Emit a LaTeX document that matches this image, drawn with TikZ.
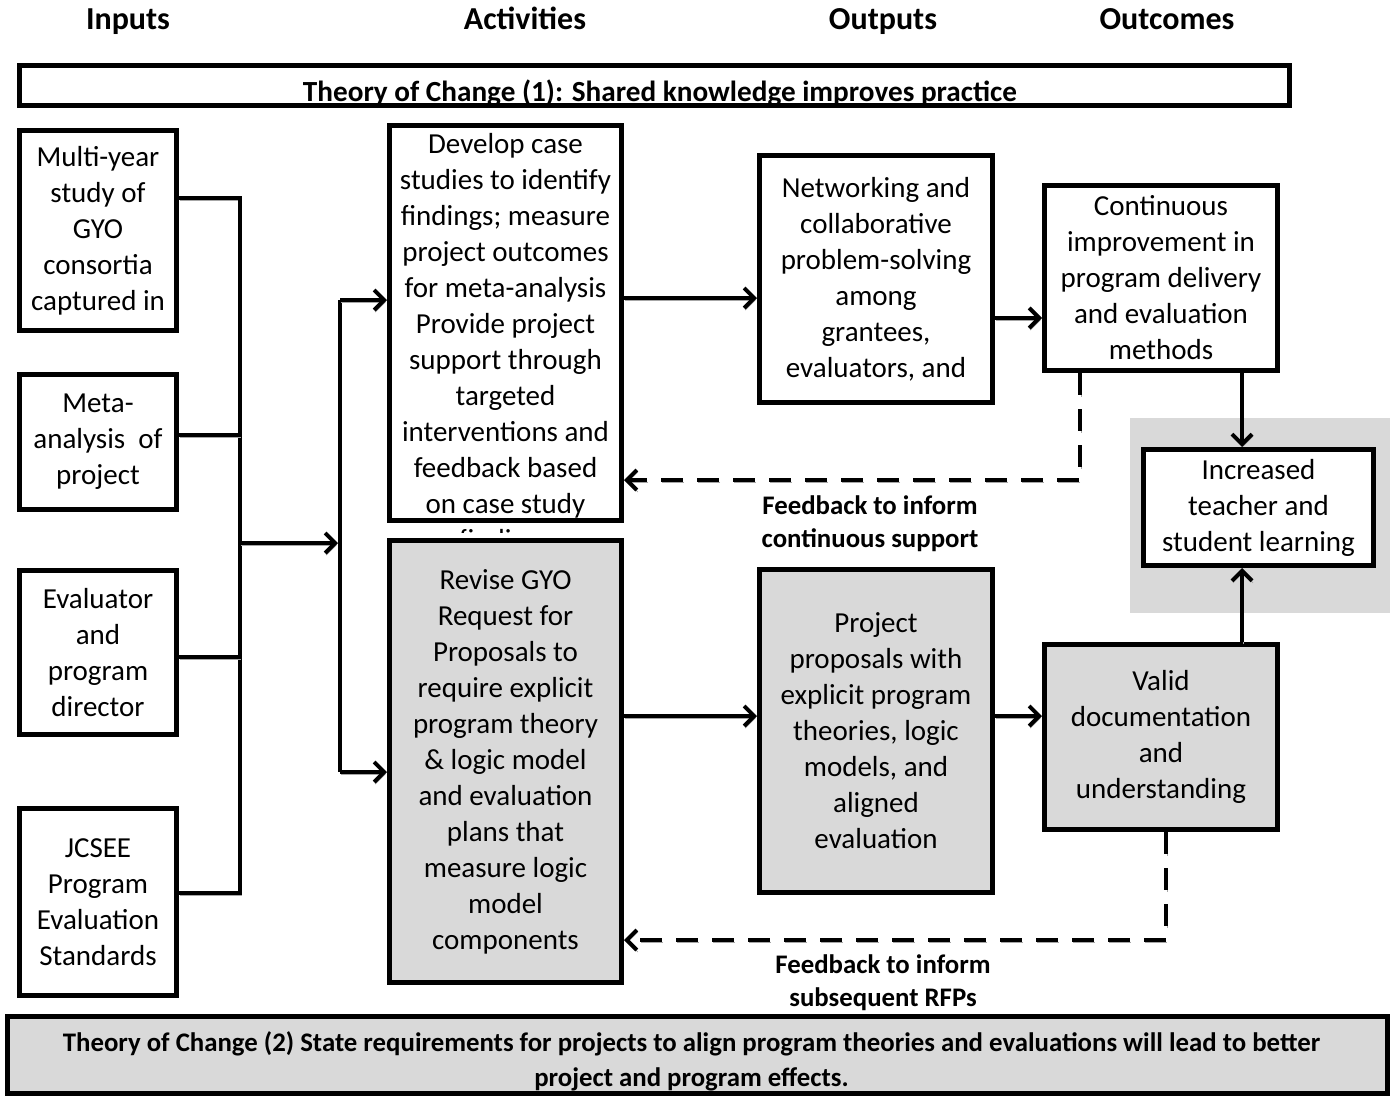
\documentclass[tikz,border=0pt]{standalone}
\usepackage{fontspec}
\setmainfont{Carlito}
\usetikzlibrary{arrows.meta, positioning, shadows}
\definecolor{boxgray}{RGB}{217,217,217}
\tikzstyle{block} = [rectangle, draw=black, line width=2.5pt, fill=white, align=center, inner sep=2pt, font=\fontsize{14.5}{18}\selectfont, drop shadow={shadow xshift=1pt, shadow yshift=-1pt, fill=gray!70, opacity=1}]
\tikzstyle{grayblock} = [block, fill=boxgray]
\tikzstyle{banner} = [rectangle, draw=black, line width=2.5pt, align=center, font=\fontsize{13.4}{17.5}\selectfont\bfseries, drop shadow={shadow xshift=1pt, shadow yshift=-1pt, fill=gray!70, opacity=1}]
\tikzstyle{heading} = [anchor=base, font=\fontsize{16}{19}\selectfont\bfseries]
\tikzstyle{note} = [align=center, font=\fontsize{13.4}{16.5}\selectfont\bfseries]
\tikzstyle{shade} = [preaction={draw=gray!70, transform canvas={shift={(0.5pt,-1pt)}}}]
\tikzstyle{arrow} = [-{Straight Barb[length=5pt,width=10pt]}, line width=2pt, shade]
\tikzstyle{line} = [-, line width=2pt, shade]
\tikzstyle{feedback} = [-{Straight Barb[length=5pt,width=10pt]}, line width=2pt, dash pattern=on 11pt off 7pt, preaction={draw=gray!70, dash pattern=on 11pt off 7pt, transform canvas={shift={(0.5pt,-1pt)}}}]

\begin{document}
\begin{tikzpicture}[x=0.5pt, y=-0.5pt]

    \useasboundingbox (0,0) rectangle (1393,1099);

    % column headings
    \node (hin) [heading] at (128,29) {Inputs};
    \node (hact) [heading] at (525,29) {Activities};
    \node (hout) [heading] at (883,29) {Outputs};
    \node (hoc) [heading] at (1167,29) {Outcomes};

    \node (toc1) [banner, fill=white, minimum width=635pt, minimum height=20pt] at (654.5,85.5) {};
    \node (toc1text) [note, font=\fontsize{14.6}{17.5}\selectfont\bfseries] at (660,93) {Theory of Change (1): Shared knowledge improves practice};

    % inputs
    \node (in1) [block, minimum width=78.5pt, minimum height=100pt] at (98,230.5) {Multi-year\\study of\\GYO\\consortia\\captured in};
    \node (in2) [block, minimum width=78.5pt, minimum height=67.5pt] at (98,442) {Meta-\\analysis\ \ of\\project};
    \node (in3) [block, minimum width=78.5pt, minimum height=82pt] at (98,652.5) {Evaluator\\and\\program\\director};
    \node (in4) [block, minimum width=78.5pt, minimum height=93.5pt] at (98,902) {JCSEE\\Program\\Evaluation\\Standards};

    % activities
    \node (act1) [block, minimum width=116pt, minimum height=197.5pt] at (505.5,323) {};
    \begin{scope}
        \clip (act1.north west) rectangle (act1.east |- 0,532);
        \node (act1text) [below=5pt of act1.north, align=center, inner sep=0pt, font=\fontsize{14.5}{18}\selectfont] {Develop case\\studies to identify\\findings; measure\\project outcomes\\for meta-analysis\\Provide project\\support through\\targeted\\interventions and\\feedback based\\on case study\\findings};
    \end{scope}
    \node (act2) [grayblock, minimum width=116pt, minimum height=221pt] at (505.5,761.5) {Revise GYO\\Request for\\Proposals to\\require explicit\\program theory\\\& logic model\\and evaluation\\plans that\\measure logic\\model\\components};

    % outputs
    \node (out1) [block, minimum width=116.5pt, minimum height=123.5pt] at (876,279) {Networking and\\collaborative\\problem-solving\\among\\grantees,\\evaluators, and};
    \node (out2) [grayblock, minimum width=116.5pt, minimum height=161.5pt] at (876,731) {Project\\proposals with\\explicit program\\theories, logic\\models, and\\aligned\\evaluation};

    % outcomes
    \node (oc1) [block, minimum width=116.5pt, minimum height=92.5pt] at (1161,278) {Continuous\\improvement in\\program delivery\\and evaluation\\methods};
    \node (oc2) [grayblock, minimum width=116.5pt, minimum height=92.5pt] at (1161,737) {Valid\\documentation\\and\\understanding};
    \node (incbg) [rectangle, fill=boxgray, minimum width=130pt, minimum height=97.5pt] at (1260,515.5) {};
    \node (inc) [block, minimum width=115pt, minimum height=58pt] at (1258.5,507.5) {Increased\\teacher and\\student learning};

    \node (toc2) [banner, fill=boxgray, minimum width=690pt, minimum height=38.5pt] at (697.5,1055) {};
    \node (toc2text) [note, font=\fontsize{13.4}{17.5}\selectfont\bfseries] at (691.5,1061) {Theory of Change (2) State requirements for projects to align program theories and evaluations will lead to better\\project and program effects.};

    \node (fbtext1) [note] at (870,523.5) {Feedback to inform\\continuous support};
    \node (fbtext2) [note] at (883,982.5) {Feedback to inform\\subsequent RFPs};

    \coordinate (j1) at (240,198);
    \coordinate (j2) at (240,435);
    \coordinate (j3) at (240,657);
    \coordinate (j4) at (240,893);
    \coordinate (jm) at (240,543);
    \coordinate (hm) at (338,543);
    \coordinate (h1) at (340,300);
    \coordinate (h2) at (340,772);
    \coordinate (fb1) at (1080,480);
    \coordinate (fb2) at (1166,940);

    \draw [line] (in1.east |- j1) -- (j1) -- (j4) -- (in4.east |- j4);
    \draw [line] (in2.east |- j2) -- (j2);
    \draw [line] (in3.east |- j3) -- (j3);
    \draw [arrow] (jm) -- (hm);
    \draw [line] (h1) -- (h2);
    \draw [arrow] (h1) -- (act1.west |- h1);
    \draw [arrow] (h2) -- (act2.west |- h2);

    \draw [arrow] (act1.east |- 0,298) -- (out1.west |- 0,298);
    \draw [arrow] (out1.east |- 0,318) -- (oc1.west |- 0,318);
    \draw [arrow] (act2.east |- 0,716) -- (out2.west |- 0,716);
    \draw [arrow] (out2.east |- 0,716) -- (oc2.west |- 0,716);
    \draw [arrow] (oc1.south -| 1242,0) -- (inc.north -| 1242,0);
    \draw [arrow] (oc2.north -| 1242,0) -- (inc.south -| 1242,0);

    \draw [feedback] (oc1.south -| fb1) -- (fb1) -- (act1.east |- fb1);
    \draw [feedback] (oc2.south -| fb2) -- (fb2) -- (act2.east |- fb2);

\end{tikzpicture}
\end{document}
